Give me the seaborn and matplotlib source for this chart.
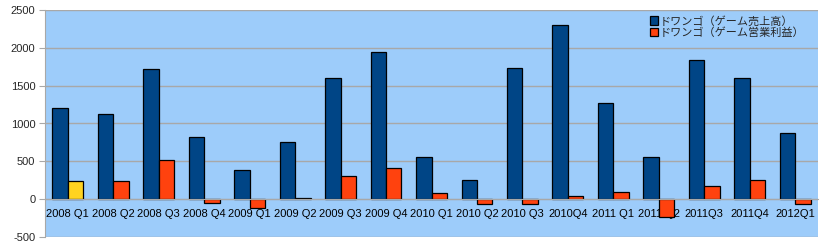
import matplotlib
matplotlib.use("Agg")
import matplotlib.pyplot as plt
import seaborn as sns
import pandas as pd
import numpy as np

quarters = ["2008 Q1", "2008 Q2", "2008 Q3", "2008 Q4", "2009 Q1", "2009 Q2",
            "2009 Q3", "2009 Q4", "2010 Q1", "2010 Q2", "2010 Q3", "2010Q4",
            "2011 Q1", "2011 Q2", "2011Q3", "2011Q4", "2012Q1"]
sales = [1200, 1120, 1716, 820, 380, 750, 1597, 1941, 552, 247, 1729, 2302,
         1266, 552, 1835, 1597, 869]
profit = [234, 234, 512, -57, -123, 22, 300, 406, 88, -70, -70, 36,
          101, -242, 168, 247, -70]
series_names = ["ドワンゴ（ゲーム売上高）", "ドワンゴ（ゲーム営業利益）"]
yticks = [-500, 0, 500, 1000, 1500, 2000, 2500]

df = pd.DataFrame({
    "quarter": quarters * 2,
    "value": sales + profit,
    "series": [series_names[0]] * len(quarters) + [series_names[1]] * len(quarters),
})

sns.set_style("white")
plt.rcParams["font.family"] = ["Liberation Sans", "Noto Sans CJK JP", "DejaVu Sans"]

fig = plt.figure(figsize=(8.24, 2.5), dpi=100)
ax = fig.add_axes([45 / 824, 13 / 250, 773 / 824, 227 / 250])
ax.set_facecolor("#9DCCFA")

sns.barplot(data=df, x="quarter", y="value", hue="series",
            palette=["#004586", "#FF420E"], saturation=1, edgecolor="black",
            linewidth=0.9, width=0.68, ax=ax, legend=True)

# first profit bar highlighted in yellow
profit_bars = ax.containers[1]
profit_bars[0].set_facecolor("#FFD320")

ax.set_ylim(-500, 2500)
ax.set_xlim(-0.5, len(quarters) - 0.5)
ax.set_yticks(yticks)
ax.set_yticklabels([str(v) for v in yticks])
ax.set_xticks(range(len(quarters)))
ax.set_xticklabels(quarters)
ax.set_xlabel("")
ax.set_ylabel("")
ax.yaxis.grid(True, color="#A8A8A8", linewidth=1)
ax.set_axisbelow(True)

ax.spines["bottom"].set_position(("data", 0))
ax.spines["bottom"].set_color("#A8A8A8")
ax.spines["left"].set_color("#A8A8A8")
ax.spines["top"].set_visible(False)
ax.spines["right"].set_visible(False)
ax.set_xticks(np.arange(0.5, len(quarters) - 0.5, 1), minor=True)
ax.tick_params(axis="x", which="major", length=0, pad=7, colors="black")
ax.tick_params(axis="x", which="minor", length=4, color="#A8A8A8", direction="out")
ax.tick_params(axis="y", length=4, color="#A8A8A8", pad=3, left=True)
for lbl in ax.get_xticklabels() + ax.get_yticklabels():
    lbl.set_fontsize(8)
    lbl.set_family("Liberation Sans")

leg = ax.legend(loc="upper right", bbox_to_anchor=(0.99, 1.0), frameon=False,
                prop={"family": ["Noto Sans CJK JP", "DejaVu Sans"], "size": 8},
                handlelength=0.75, handleheight=0.75,
                handletextpad=0.2, labelspacing=0.05, borderaxespad=0.1)

fig.savefig("out.png", dpi=100, facecolor="white")
